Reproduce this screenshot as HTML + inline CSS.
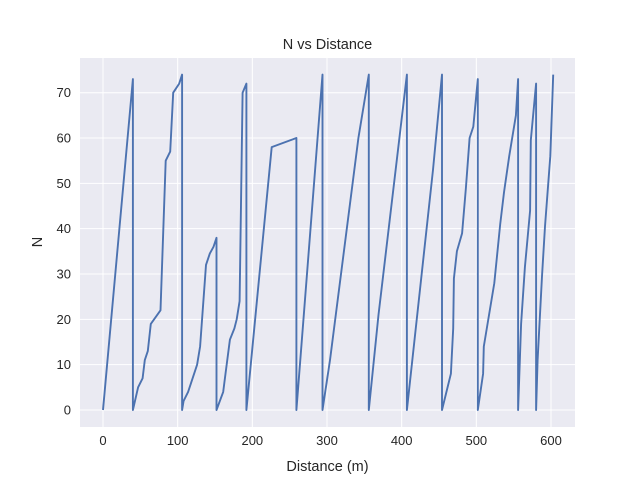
<!DOCTYPE html>
<html><head><meta charset="utf-8"><style>
body{margin:0;background:#fff}
svg text{font-family:"Liberation Sans","DejaVu Sans",sans-serif;fill:#262626}
</style></head><body>
<svg id="chart" width="640" height="480" xmlns="http://www.w3.org/2000/svg">
<rect x="80" y="58" width="495" height="369" fill="#eaeaf2"/>
<g id="grid"></g>
<path id="line" fill="none" stroke="#4c72b0" stroke-width="1.9" stroke-linejoin="round"/>
<g id="ticks"></g>
<text x="327.5" y="49" text-anchor="middle" font-size="14.5">N vs Distance</text>
<text x="327.5" y="471" text-anchor="middle" font-size="14.5">Distance (m)</text>
<text x="42" y="242" text-anchor="middle" font-size="14.5" transform="rotate(-90 42 242)">N</text>
</svg>
<script>
const xTicks=[0,100,200,300,400,500,600];
const yTicks=[0,10,20,30,40,50,60,70];
const distance=[0,40,40,47,53,56,60,64,77,84,90,94,102,106,106,108,114,120,126,130,138,143,148,152,152,161,164,170,176,179,183,187,192,192,226,259,259,294,294,304,342,356,356,369,407,407,442,454,454,466,469,470,474,481,486,491,496,502,502,509,510,524,532,537,544,553,556,556,560,565,572,573,580,580,582,588,592,599,603];
const nValues=[0,73,0,5,7,11,13,19,22,55,57,70,72,74,0,2,4,7,10,14,32,34.5,36,38,0,4,8,15.5,18,20,24,70,72,0,58,60,0,74,0,11,60,74,0,21,74,0,53,74,0,8,18,29,35,39,49,60,62.5,73,0,8,14,28,41,48,56,65,73,0,19,31.5,44,59.5,72,0,11,29.5,40.5,56,74];
const L=80,R=575,T=58,B=427;
const x0=103,xs=448/600,y0=410,ys=317.3/70;
function sx(v){return x0+v*xs}
function sy(v){return y0-v*ys}
const ns="http://www.w3.org/2000/svg";
const grid=document.getElementById('grid'),ticks=document.getElementById('ticks');
xTicks.forEach(t=>{
 const l=document.createElementNS(ns,'line');
 
 
 l.setAttribute('x1',sx(t));l.setAttribute('x2',sx(t));l.setAttribute('y1',T);l.setAttribute('y2',B);
 l.setAttribute('stroke','#fff');l.setAttribute('stroke-width','1');grid.appendChild(l);
 const tx=document.createElementNS(ns,'text');
 
 
 tx.setAttribute('x',sx(t));tx.setAttribute('y',B+18);tx.setAttribute('text-anchor','middle');tx.setAttribute('font-size','13');
 tx.textContent=t;ticks.appendChild(tx);
});
yTicks.forEach(t=>{
 const l=document.createElementNS(ns,'line');
 
 
 l.setAttribute('x1',L);l.setAttribute('x2',R);l.setAttribute('y1',sy(t));l.setAttribute('y2',sy(t));
 l.setAttribute('stroke','#fff');l.setAttribute('stroke-width','1');grid.appendChild(l);
 const tx=document.createElementNS(ns,'text');
 
 
 tx.setAttribute('x',L-9);tx.setAttribute('y',sy(t)+4.5);tx.setAttribute('text-anchor','end');tx.setAttribute('font-size','13');
 tx.textContent=t;ticks.appendChild(tx);
});
document.getElementById('line').setAttribute('d',distance.map((d,i)=>(i?'L':'M')+sx(d).toFixed(1)+','+sy(nValues[i]).toFixed(1)).join(''));
</script>
</body></html>
